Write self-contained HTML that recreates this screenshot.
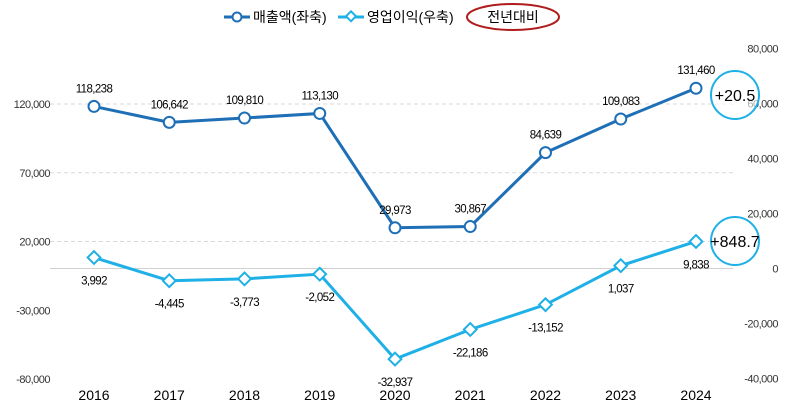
<!DOCTYPE html>
<html><head><meta charset="utf-8"><style>
body{margin:0;background:#fff;}
svg{display:block;font-family:"Liberation Sans","Noto Sans CJK KR",sans-serif;}
</style></head><body>
<svg id="c" width="787" height="408">
<g id="grid"></g><g id="axes"></g><g id="series"></g><g id="labels"></g>
<g>
  <g>
    <line x1="224" y1="17" x2="250" y2="17" stroke="#1f6fb6" stroke-width="3"/>
    <circle cx="237" cy="17" r="4.5" fill="#fff" stroke="#1f6fb6" stroke-width="2"/>
    <text x="253" y="22" font-size="14" fill="#000">매출액(좌축)</text>
  </g>
  <g>
    <line x1="338" y1="17" x2="364" y2="17" stroke="#1eb0e6" stroke-width="3"/>
    <rect x="347" y="13" width="7" height="7" fill="#fff" stroke="#1eb0e6" stroke-width="2" transform="rotate(45 351 17)"/>
    <text x="367" y="22" font-size="14" fill="#000">영업이익(우축)</text>
  </g>
  <ellipse cx="513" cy="17" rx="46" ry="13" fill="none" stroke="#b01c1c" stroke-width="2"/>
  <text x="513" y="22" font-size="14" text-anchor="middle" fill="#000">전년대비</text>
</g>
<g>
  <circle cx="735" cy="95" r="24" fill="#fff" fill-opacity="0.6" stroke="#1eb0e6" stroke-width="2"/>
  <text x="735" y="101" font-size="16" text-anchor="middle" fill="#000">+20.5</text>
</g>
<g>
  <circle cx="735" cy="241" r="24" fill="#fff" fill-opacity="0.6" stroke="#1eb0e6" stroke-width="2"/>
  <text x="735" y="247" font-size="16" text-anchor="middle" fill="#000">+848.7</text>
</g>
</svg>
<script>
const years=["2016","2017","2018","2019","2020","2021","2022","2023","2024"];
const sales=[118238,106642,109810,113130,29973,30867,84639,109083,131460];
const profit=[3992,-4445,-3773,-2052,-32937,-22186,-13152,1037,9838];
const leftTicks=[120000,70000,20000,-30000,-80000];
const rightTicks=[80000,60000,40000,20000,0,-20000,-40000];
const NS="http://www.w3.org/2000/svg";
const xs=i=>94+i*75.25;
const yl=v=>269-v*0.001375;
const yr=v=>268.5-v*0.00275;
const fmt=v=>v.toLocaleString("en-US");
function mk(tag,attrs,parent,txt){const e=document.createElementNS(NS,tag);for(const k in attrs)e.setAttribute(k,attrs[k]);if(txt!==undefined)e.textContent=txt;document.getElementById(parent).appendChild(e);return e;}
leftTicks.forEach(t=>{
  if(t>0){const g=mk("line",{x1:50,x2:733,y1:yl(t),y2:yl(t),stroke:"#d9d9d9","stroke-dasharray":"4 3"},"grid");
  
  }
  const e=mk("text",{x:50,y:yl(t)+4,"font-size":11,"text-anchor":"end",fill:"#333","letter-spacing":"-0.5"},"axes",fmt(t));
  
  
});
const z=mk("line",{x1:50,x2:733,y1:268.5,y2:268.5,stroke:"#d0d0d0"},"grid");


rightTicks.forEach(t=>{
  const e=mk("text",{x:778,y:yr(t)+4,"font-size":11,"text-anchor":"end",fill:"#333","letter-spacing":"-0.5"},"axes",fmt(t));
  
  
});
years.forEach((y,i)=>{
  const e=mk("text",{x:xs(i),y:400,"font-size":14,"text-anchor":"middle",fill:"#000"},"axes",y);
  
  
});
const sp=mk("polyline",{points:sales.map((v,i)=>xs(i)+","+yl(v)).join(" "),fill:"none",stroke:"#1f6fb6","stroke-width":3},"series");


const pp=mk("polyline",{points:profit.map((v,i)=>xs(i)+","+yr(v)).join(" "),fill:"none",stroke:"#1eb0e6","stroke-width":3},"series");


sales.forEach((v,i)=>{
  const c=mk("circle",{cx:xs(i),cy:yl(v),r:5.5,fill:"#fff",stroke:"#1f6fb6","stroke-width":2},"series");
  
  
  const t=mk("text",{x:xs(i),y:yl(v)-14,"font-size":11.5,"text-anchor":"middle",fill:"#000","letter-spacing":"-0.6"},"labels",fmt(v));
  
  
});
profit.forEach((v,i)=>{
  const x=xs(i),y=yr(v);
  const d=mk("rect",{x:x-4.5,y:y-4.5,width:9,height:9,fill:"#fff",stroke:"#1eb0e6","stroke-width":2,transform:`rotate(45 ${x} ${y})`},"series");
  
  
  const t=mk("text",{x:x,y:y+27,"font-size":11.5,"text-anchor":"middle",fill:"#000","letter-spacing":"-0.6"},"labels",fmt(v));
  
  
});
</script>
</body></html>
